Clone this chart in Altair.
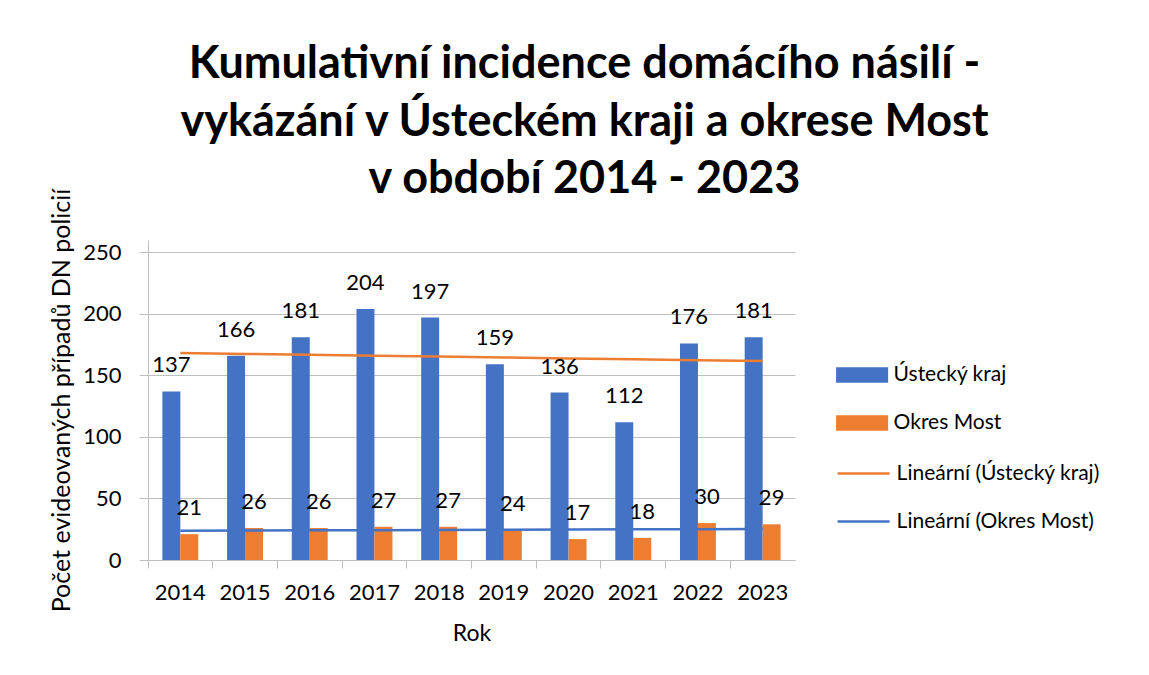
import altair as alt
import pandas as pd

years = [2014, 2015, 2016, 2017, 2018, 2019, 2020, 2021, 2022, 2023]
usti = [137, 166, 181, 204, 197, 159, 136, 112, 176, 181]
most = [21, 26, 26, 27, 27, 24, 17, 18, 30, 29]
series_names = ["Ústecký kraj", "Okres Most"]
trend_names = ["Lineární (Ústecký kraj)", "Lineární (Okres Most)"]
title_lines = ["Kumulativní incidence domácího násilí -",
               "vykázání v Ústeckém kraji a okrese Most",
               "v období 2014 - 2023"]

BLUE = "#4472C4"
ORANGE = "#ED7D31"
FONT = "Lato"

rows = []
for y, a, b in zip(years, usti, most):
    rows.append({"rok": y, "serie": series_names[0], "hodnota": a, "trend": trend_names[0]})
    rows.append({"rok": y, "serie": series_names[1], "hodnota": b, "trend": trend_names[1]})
df = pd.DataFrame(rows)

W, H = 647, 320

x = alt.X("rok:O", title="Rok",
          scale=alt.Scale(paddingInner=0, paddingOuter=0),
          axis=alt.Axis(labelAngle=0, bandPosition=0, tickSize=8, labelPadding=14,
                        titlePadding=19, domainColor="#BFBFBF", tickColor="#BFBFBF"))
xoff = alt.XOffset("serie:N", sort=series_names,
                   scale=alt.Scale(paddingInner=0, paddingOuter=0.8))
y = alt.Y("hodnota:Q", title="Počet evideovaných případů DN policií",
          scale=alt.Scale(domain=[0, 250]),
          axis=alt.Axis(values=[0, 50, 100, 150, 200, 250], tickSize=9, labelPadding=18,
                        titlePadding=8, titleFontSize=25, gridColor="#BFBFBF",
                        domainColor="#BFBFBF", tickColor="#BFBFBF"))

base = alt.Chart(df)

RECT = "M-2.5,-0.75L2.5,-0.75L2.5,0.75L-2.5,0.75Z"
LINE = "M-2.5,0L2.5,0"

bars = base.mark_bar().encode(
    x=x, xOffset=xoff, y=y,
    fill=alt.Fill("serie:N", sort=series_names,
                  scale=alt.Scale(domain=series_names, range=[BLUE, ORANGE]),
                  legend=alt.Legend(title=None, orient="none", legendX=703.6, legendY=124.5,
                                    symbolType=RECT, symbolSize=433, symbolStrokeWidth=0,
                                    symbolOpacity=1, labelFontSize=21, labelOffset=21,
                                    rowPadding=26, labelLimit=400,
                                    labelFont=FONT, labelColor="#000000")),
)

labels = base.mark_text(baseline="alphabetic", dy=-19, fontSize=22, font=FONT, color="#000000").encode(
    x=x, xOffset=xoff, y=y, text="hodnota:Q"
)

# linear trend (least squares) computed by Vega-Lite transforms
trend = base.transform_joinaggregate(
    mx="mean(rok)", my="mean(hodnota)", groupby=["trend"]
).transform_calculate(
    dxy="(datum.rok - datum.mx) * (datum.hodnota - datum.my)",
    dxx="(datum.rok - datum.mx) * (datum.rok - datum.mx)",
).transform_joinaggregate(
    sxy="sum(dxy)", sxx="sum(dxx)", groupby=["trend"]
).transform_calculate(
    fit="datum.my + datum.sxy / datum.sxx * (datum.rok - datum.mx)"
).mark_line(strokeWidth=2.5).encode(
    x=alt.X("rok:O"),
    y=alt.Y("fit:Q"),
    stroke=alt.Stroke("trend:N", sort=trend_names,
                      scale=alt.Scale(domain=trend_names, range=[ORANGE, BLUE]),
                      legend=alt.Legend(title=None, orient="none", legendX=703.6, legendY=221.5,
                                        symbolType=LINE, symbolSize=433,
                                        symbolStrokeWidth=2.5, labelOffset=21,
                                        labelFontSize=21, rowPadding=26, labelLimit=400,
                                        labelFont=FONT, labelColor="#000000")),
)

chart = alt.layer(bars, trend, labels).properties(
    width=W, height=H,
    title=alt.TitleParams(text=title_lines, fontSize=45, font=FONT, fontWeight="bold",
                          lineHeight=57.5, anchor="middle", dx=113, dy=28, offset=14,
                          color="#000000"),
    autosize=alt.AutoSizeParams(type="none"),
    padding={"left": 140, "top": 232, "right": 345, "bottom": 100},
).configure_axis(
    labelFont=FONT, titleFont=FONT, labelFontSize=22, titleFontSize=23,
    labelColor="#000000", titleColor="#000000", titleFontWeight="normal",
).configure_axisX(grid=False).configure_view(stroke=None)

chart.save("out.html", embed_options={"renderer": "svg", "actions": False})
